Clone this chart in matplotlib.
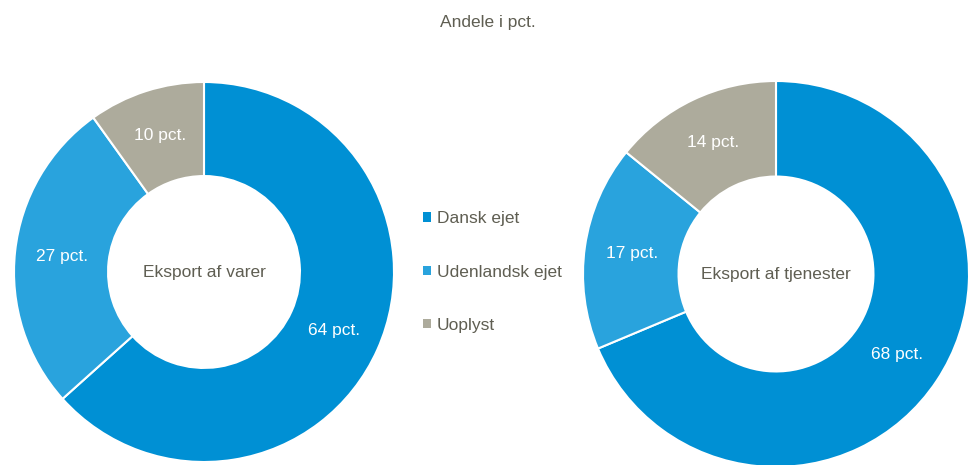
import matplotlib
matplotlib.use("Agg")
import matplotlib.pyplot as plt
import numpy as np
from matplotlib.patches import Patch

# --- data ---
categories = ["Dansk ejet", "Udenlandsk ejet", "Uoplyst"]
varer = [64, 27, 10]
tjenester = [68, 17, 14]
centre_labels = ["Eksport af varer", "Eksport af tjenester"]
colors = ["#0090D4", "#29A3DD", "#ADAB9C"]
text_col = "#5F5E52"

plt.rcParams['font.family'] = ['Liberation Sans', 'DejaVu Sans']

W, H = 969, 465
fig = plt.figure(figsize=(W / 100, H / 100), dpi=100)

def donut_axes(cx, cy, r):
    # cx, cy in pixel from top-left
    return fig.add_axes([(cx - r) / W, (H - cy - r) / H, 2 * r / W, 2 * r / H])

def draw_donut(ax, values, centre_text, inner=0.505):
    wedges, _ = ax.pie(values, colors=colors, startangle=90, counterclock=False,
                       radius=1, wedgeprops=dict(width=1 - inner, edgecolor="white", linewidth=1.5))
    rm = (1 + inner) / 2
    for w, v in zip(wedges, values):
        ang = np.deg2rad((w.theta1 + w.theta2) / 2)
        ax.text(rm * np.cos(ang), rm * np.sin(ang), f"{v} pct.", color="white",
                fontsize=12.5, ha="center", va="center")
    ax.text(0, 0, centre_text, color=text_col, fontsize=12.5, ha="center", va="center")
    ax.set_xlim(-1, 1)
    ax.set_ylim(-1, 1)
    ax.set_aspect("equal")
    ax.axis("off")

ax1 = donut_axes(204, 272, 190)
draw_donut(ax1, varer, centre_labels[0])
ax2 = donut_axes(776, 274, 193)
draw_donut(ax2, tjenester, centre_labels[1])

fig.text(488 / W, 1 - 22 / H, "Andele i pct.", color=text_col, fontsize=12.5,
         ha="center", va="center")

handles = [Patch(facecolor=c, edgecolor="none") for c in colors]
fig.legend(handles, categories, loc="center left", bbox_to_anchor=(423 / W, 1 - 272 / H),
           frameon=False, fontsize=12.5, labelcolor=text_col, handlelength=0.45,
           handleheight=0.45, handletextpad=0.35, labelspacing=2.2, borderpad=0,
           borderaxespad=0)

fig.savefig("out.png", dpi=100)
